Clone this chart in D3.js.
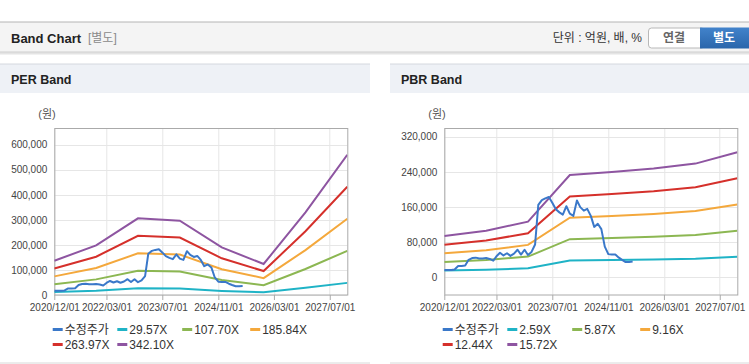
<!DOCTYPE html>
<html>
<head>
<meta charset="utf-8">
<script src="https://cdn.jsdelivr.net/npm/d3@7"></script>
<style>
  body { margin: 0; background: #fff; }
  svg { display: block; font-family: "Liberation Sans", "Noto Sans CJK KR", sans-serif; }
</style>
</head>
<body>
<script>
// band knots (year ends) and tick labels
var bandDates = ["2020-12-01", "2021-12-01", "2022-12-01", "2023-12-01", "2024-12-01", "2025-12-01", "2026-12-01", "2027-12-01"];
var xTickLabels = ["2020/12/01", "2022/03/01", "2023/07/01", "2024/11/01", "2026/03/01", "2027/07/01"];

// 수정주가, monthly from 2020/12
var priceStart = "2020-12-01";
var priceValues = [17000, 17000, 17000, 18000, 26000, 26000, 27000, 40000, 44000, 45000,
    43000, 43000, 44000, 42000, 38000, 48000, 56000, 50000, 55000, 49000,
    54000, 63000, 52000, 63000, 51000, 58000, 75000, 165000, 176000, 180000,
    183000, 170000, 155000, 148000, 143000, 162000, 145000, 140000, 175000, 160000,
    152000, 156000, 140000, 115000, 122000, 110000, 70000, 53000, 52000, 52000,
    45000, 40000, 35000, 35000, 36000];

// PER band
var perLabels = ["29.57X", "107.70X", "185.84X", "263.97X", "342.10X"];
var per1 = [11800, 17100, 26500, 25700, 16400, 10700, 28500, 48400];
var per2 = [43100, 62400, 96400, 93500, 59800, 39000, 103900, 176300];
var per3 = [74300, 107600, 166300, 161300, 103100, 67300, 179300, 304200];
var per4 = [105600, 152800, 236300, 229100, 146500, 95600, 254700, 432100];
var per5 = [136800, 198100, 306200, 296900, 189900, 123800, 330100, 560000];
var perYTicks = [0, 100000, 200000, 300000, 400000, 500000, 600000];

// PBR band
var pbrLabels = ["2.59X", "5.87X", "9.16X", "12.44X", "15.72X"];
var pbr1 = [15500, 17500, 20900, 38400, 39500, 40900, 42700, 47000];
var pbr2 = [35100, 39600, 47400, 87000, 89600, 92600, 96700, 106400];
var pbr3 = [54800, 61800, 74000, 135800, 139800, 144500, 150900, 166100];
var pbr4 = [74400, 83900, 100500, 184400, 189900, 196300, 205000, 225500];
var pbr5 = [94000, 106000, 127000, 233000, 240000, 248000, 259000, 285000];
var pbrYTicks = [0, 80000, 160000, 240000, 320000];

var colors = ["#3a78c9", "#1fb3c6", "#8cb752", "#f4a83c", "#d5302b", "#8e55a1"];

var parse = d3.timeParse("%Y-%m-%d");
var parseTick = d3.timeParse("%Y/%m/%d");
var fmt = d3.format(",");

var svg = d3.select("body").append("svg")
    .attr("width", 749)
    .attr("height", 364);

// ---- top header bar
svg.append("rect").attr("x", 0).attr("y", 51.5).attr("width", 749).attr("height", 3).attr("fill", "#e4e4e4");
svg.append("rect").attr("x", 0).attr("y", 22).attr("width", 749).attr("height", 30).attr("fill", "#f4f4f4");
svg.append("line").attr("x1", 0).attr("x2", 749).attr("y1", 22).attr("y2", 22).attr("stroke", "#b4b4b4");
svg.append("line").attr("x1", 0).attr("x2", 749).attr("y1", 52).attr("y2", 52).attr("stroke", "#cfcfcf");
svg.append("text").attr("x", 11).attr("y", 38).attr("dy", "0.35em")
    .attr("font-size", "13px").attr("font-weight", "bold").attr("fill", "#222").text("Band Chart");
svg.append("text").attr("x", 88).attr("y", 38).attr("dy", "0.35em")
    .attr("font-size", "12px").attr("fill", "#8a8a8a").text("[별도]");
svg.append("text").attr("x", 642).attr("y", 38).attr("dy", "0.35em").attr("text-anchor", "end")
    .attr("font-size", "12px").attr("fill", "#333").text("단위 : 억원, 배, %");

// buttons
svg.append("rect").attr("x", 648.5).attr("y", 28).attr("width", 56).attr("height", 20).attr("rx", 3)
    .attr("fill", "#fff").attr("stroke", "#b8b8b8");
var grad = svg.append("defs").append("linearGradient").attr("id", "btn").attr("x1", 0).attr("x2", 0).attr("y1", 0).attr("y2", 1);
grad.append("stop").attr("offset", "0%").attr("stop-color", "#4283cb");
grad.append("stop").attr("offset", "100%").attr("stop-color", "#2a66ab");
svg.append("rect").attr("x", 700).attr("y", 27.5).attr("width", 49).attr("height", 21).attr("fill", "url(#btn)");
svg.append("text").attr("x", 674).attr("y", 38).attr("dy", "0.35em").attr("text-anchor", "middle")
    .attr("font-size", "12px").attr("font-weight", "bold").attr("fill", "#666").text("연결");
svg.append("text").attr("x", 724).attr("y", 38).attr("dy", "0.35em").attr("text-anchor", "middle")
    .attr("font-size", "12px").attr("font-weight", "bold").attr("fill", "#fff").text("별도");

// ---- one band panel
function drawPanel(px, pw, title, left, yDomain, yTicks, labels, bands) {
    var top = 128, width = 293, height = 167;

    var p = svg.append("g");
    p.append("rect").attr("x", px).attr("y", 64).attr("width", pw).attr("height", 29).attr("fill", "#eef1f6");
    p.append("line").attr("x1", px).attr("x2", px + pw).attr("y1", 64).attr("y2", 64).attr("stroke", "#d4d8de");
    p.append("line").attr("x1", px).attr("x2", px + pw).attr("y1", 363).attr("y2", 363).attr("stroke", "#d8d8d8");
    p.append("text").attr("x", px + 11).attr("y", 80).attr("dy", "0.35em")
        .attr("font-size", "12.5px").attr("font-weight", "bold").attr("fill", "#222").text(title);

    var x = d3.scaleTime()
        .domain([parse(bandDates[0]), parse(bandDates[bandDates.length - 1])])
        .range([0, width]);
    var y = d3.scaleLinear().domain(yDomain).range([height, 0]);

    var g = svg.append("g").attr("transform", "translate(" + left + "," + top + ")");

    var tickDates = xTickLabels.map(function(d) { return parseTick(d); });

    // grid
    g.selectAll(".hgrid").data(yTicks).enter().append("line")
        .attr("x1", 0).attr("x2", width)
        .attr("y1", function(d) { return Math.round(y(d)) + 0.5; })
        .attr("y2", function(d) { return Math.round(y(d)) + 0.5; })
        .attr("stroke", "#e6e6e6");
    g.selectAll(".vgrid").data(tickDates).enter().append("line")
        .attr("x1", function(d) { return Math.round(x(d)) + 0.5; })
        .attr("x2", function(d) { return Math.round(x(d)) + 0.5; })
        .attr("y1", 0).attr("y2", height)
        .attr("stroke", "#e6e6e6");

    // y axis labels
    var yAxis = d3.axisLeft(y).tickValues(yTicks).tickFormat(fmt).tickSize(0).tickPadding(7);
    g.append("g").call(yAxis)
        .call(function(s) { s.select(".domain").remove(); })
        .selectAll("text").attr("font-size", "10px").attr("fill", "#444")
        .attr("font-family", "Liberation Sans, sans-serif");

    // x axis
    var xAxis = d3.axisBottom(x).tickValues(tickDates)
        .tickFormat(function(d, i) { return xTickLabels[i]; })
        .tickSize(5).tickPadding(4);
    var xa = g.append("g").attr("transform", "translate(0," + height + ")").call(xAxis);
    xa.select(".domain").remove();
    xa.selectAll("line").attr("stroke", "#aaa");
    xa.selectAll("text").attr("font-size", "10px").attr("fill", "#444")
        .attr("font-family", "Liberation Sans, sans-serif");

    // plot frame
    g.append("rect").attr("x", 0.5).attr("y", 0.5).attr("width", width).attr("height", height - 0.5)
        .attr("fill", "none").attr("stroke", "#aaaaaa");

    g.append("text").attr("x", -16).attr("y", -10).attr("text-anchor", "start")
        .attr("font-size", "11px").attr("fill", "#555").text("(원)");

    var line = d3.line()
        .x(function(d) { return x(d[0]); })
        .y(function(d) { return y(d[1]); });

    // band lines, from widest down so the price line stays on top
    var clip = "clip-" + title.replace(" ", "");
    g.append("clipPath").attr("id", clip).append("rect").attr("width", width).attr("height", height);
    var lines = g.append("g").attr("clip-path", "url(#" + clip + ")");
    for (var k = bands.length - 1; k >= 0; k--) {
        var pts = bandDates.map(function(d, i) { return [parse(d), bands[k][i]]; });
        lines.append("path").datum(pts).attr("d", line)
            .attr("fill", "none").attr("stroke", colors[k + 1]).attr("stroke-width", 2);
    }
    var months = d3.timeMonth.range(parse(priceStart), d3.timeMonth.offset(parse(priceStart), priceValues.length));
    var pricePts = priceValues.map(function(v, i) { return [months[i], v]; });
    lines.append("path").datum(pricePts).attr("d", line)
        .attr("fill", "none").attr("stroke", colors[0]).attr("stroke-width", 2)
        .attr("stroke-linejoin", "round");

    // legend
    var items = ["수정주가"].concat(labels);
    var colX = [0, 64.6, 129.5, 197.5];
    var lg = svg.append("g").attr("transform", "translate(" + (left - 1.6) + ",0)");
    items.forEach(function(t, i) {
        var cx = colX[i % 4], cy = i < 4 ? 329.5 : 344.5;
        lg.append("line").attr("x1", cx).attr("x2", cx + 10).attr("y1", cy).attr("y2", cy)
            .attr("stroke", colors[i]).attr("stroke-width", 3);
        lg.append("text").attr("x", cx + 12).attr("y", cy).attr("dy", "0.35em")
            .attr("font-size", "12px").attr("fill", "#333").text(t);
    });
}

drawPanel(0, 370, "PER Band", 54.3, [0, 666667], perYTicks, perLabels, [per1, per2, per3, per4, per5]);
drawPanel(390, 359, "PBR Band", 444.3, [-40000, 340000], pbrYTicks, pbrLabels, [pbr1, pbr2, pbr3, pbr4, pbr5]);
</script>
</body>
</html>
